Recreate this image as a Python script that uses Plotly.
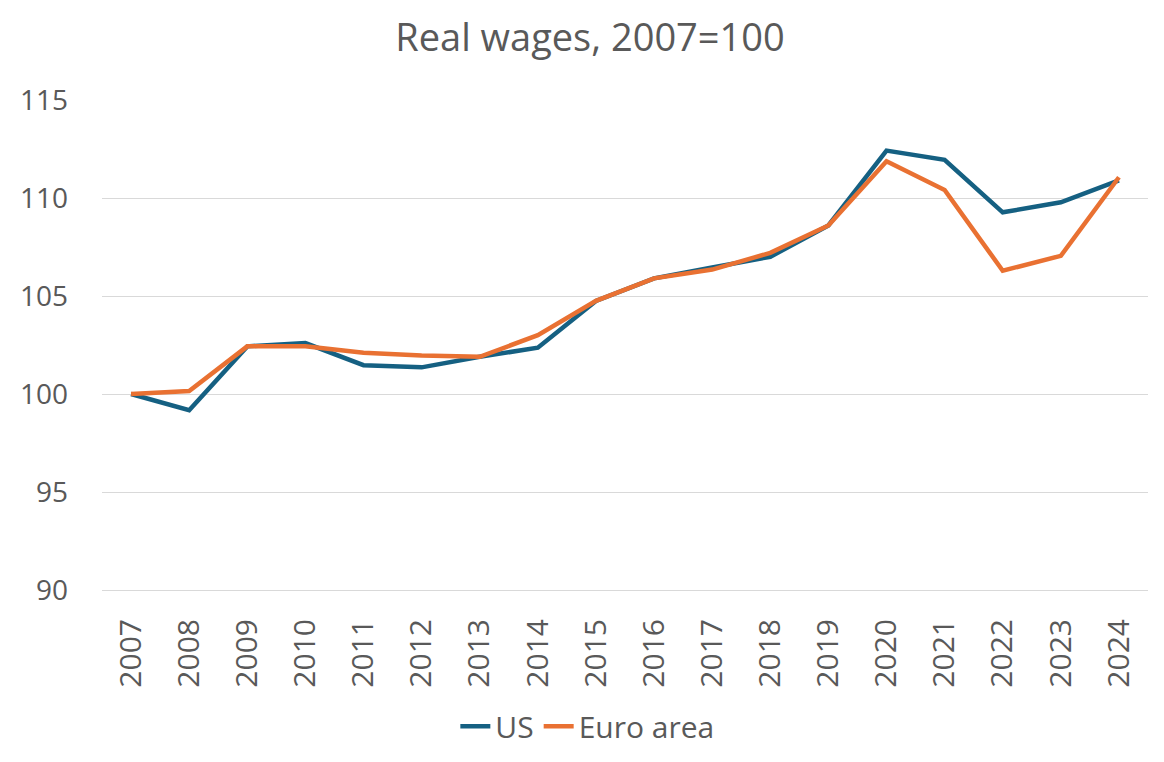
import plotly.graph_objects as go

# Real wages index, 2007 = 100
years = [str(y) for y in range(2007, 2025)]
us = [100.0, 99.17, 102.43, 102.6, 101.47, 101.36, 101.9, 102.36, 104.75,
      105.9, 106.45, 107.0, 108.6, 112.42, 111.95, 109.27, 109.78, 110.9]
euro_area = [100.0, 100.15, 102.43, 102.43, 102.1, 101.96, 101.9, 103.0, 104.75,
             105.9, 106.35, 107.2, 108.6, 111.88, 110.41, 106.29, 107.05, 111.06]
y_ticks = [90, 95, 100, 105, 110, 115]

text_col = "#595959"
font_name = "Open Sans"

fig = go.Figure()
fig.add_trace(go.Scatter(x=years, y=us, name="US", mode="lines",
                         line=dict(color="#156082", width=4.5)))
fig.add_trace(go.Scatter(x=years, y=euro_area, name="Euro area", mode="lines",
                         line=dict(color="#E97132", width=4.5)))

fig.update_layout(
    width=1164, height=762,
    paper_bgcolor="white", plot_bgcolor="white",
    margin=dict(l=90, r=24, t=92, b=180),
    font=dict(family=font_name, color=text_col),
    title=dict(text="Real wages, 2007=100", x=0.5, xanchor="center",
               y=0.961, yanchor="middle",
               font=dict(size=38, color=text_col, family=font_name)),
    legend=dict(orientation="h", x=0.464, xanchor="center",
                y=-0.278, yanchor="middle",
                font=dict(size=30, color=text_col), traceorder="normal"),
    showlegend=True,
)
fig.update_xaxes(type="category", range=[-0.5, len(years) - 0.5], tickangle=-90,
                 showgrid=False, showline=True, linecolor="#d9d9d9", linewidth=1,
                 ticks="", ticklabelstandoff=16,
                 tickfont=dict(size=30, color=text_col))
fig.update_yaxes(range=[90, 115], tickvals=y_ticks, showgrid=True,
                 gridcolor="#d9d9d9", gridwidth=1, zeroline=False,
                 ticks="", ticklabelstandoff=33,
                 tickfont=dict(size=28, color=text_col))

fig.write_html("out.html")
